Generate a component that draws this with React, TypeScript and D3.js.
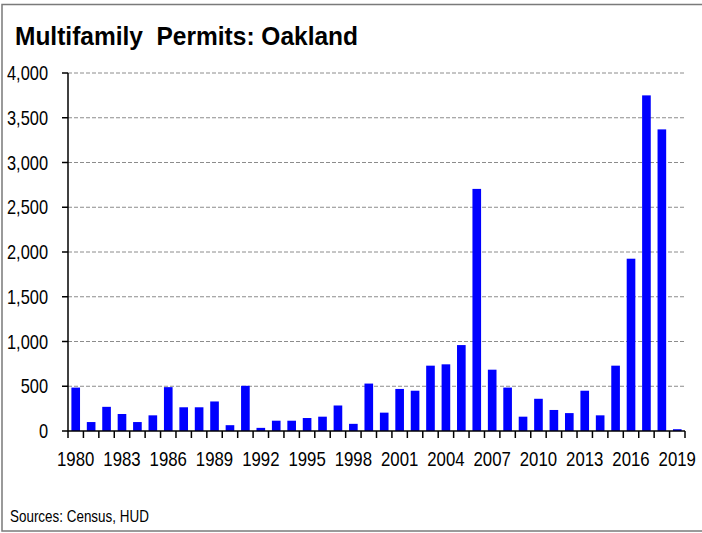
import React, { useEffect } from "react";
import * as d3 from "d3";

const years: number[] = [
  1980, 1981, 1982, 1983, 1984, 1985, 1986, 1987, 1988, 1989,
  1990, 1991, 1992, 1993, 1994, 1995, 1996, 1997, 1998, 1999,
  2000, 2001, 2002, 2003, 2004, 2005, 2006, 2007, 2008, 2009,
  2010, 2011, 2012, 2013, 2014, 2015, 2016, 2017, 2018, 2019,
];
const permits: number[] = [
  485, 100, 270, 190, 100, 175, 490, 265, 265, 330,
  65, 505, 35, 115, 115, 145, 160, 285, 80, 530,
  205, 470, 450, 730, 745, 960, 2705, 685, 485, 160,
  360, 235, 200, 450, 175, 730, 1925, 3750, 3370, 20,
];
const yTicks: number[] = [0, 500, 1000, 1500, 2000, 2500, 3000, 3500, 4000];
const xLabelYears: number[] = [1980, 1983, 1986, 1989, 1992, 1995, 1998, 2001, 2004, 2007, 2010, 2013, 2016, 2019];

const title = "Multifamily  Permits: Oakland";
const source = "Sources: Census, HUD";

const W = 702;
const H = 533;
const FONT = "'Liberation Sans', Arial, sans-serif";

function NText(props: {
  x: number;
  y: number;
  size: number;
  sx?: number;
  anchor?: "start" | "middle" | "end";
  bold?: boolean;
  children: React.ReactNode;
}) {
  return (
    <text
      transform={`translate(${props.x},${props.y}) scale(${props.sx ?? 0.82},1)`}
      x={0}
      y={0}
      fontSize={props.size}
      fontWeight={props.bold ? "bold" : "normal"}
      textAnchor={props.anchor || "start"}
      fill="#000"
      style={{ whiteSpace: "pre" }}
    >
      {props.children}
    </text>
  );
}

export default function App() {
  useEffect(() => {
    document.body.style.margin = "0";
  }, []);

  const x0 = 68;
  const x1 = 685;
  const yTop = 73;
  const yBase = 431;

  const x = d3.scaleBand<number>().domain(years).range([x0, x1]).paddingInner(0.44).paddingOuter(0.22);
  const y = d3.scaleLinear().domain([0, 4000]).range([yBase, yTop]);
  const fmt = d3.format(",");

  const boundaries = d3.range(years.length + 1).map((i) => x0 + (x1 - x0) * (i / years.length));

  return (
    <svg width={W} height={H} style={{ display: "block", background: "#fff" }} fontFamily={FONT}>
      <rect x={2} y={4.5} width={W + 10} height={526.5} fill="none" stroke="#7a7a7a" strokeWidth={1.5} />
      <text
        x={15}
        y={45}
        fontSize={26}
        fontWeight="bold"
        fill="#000"
        textLength={343}
        lengthAdjust="spacingAndGlyphs"
        style={{ whiteSpace: "pre" }}
      >
        {title}
      </text>

      {yTicks.filter((t) => t > 0).map((t) => (
        <line key={"g" + t} x1={x0} x2={x1} y1={y(t)} y2={y(t)} stroke="#8c8c8c" strokeWidth={1} strokeDasharray="4,2" />
      ))}

      {years.map((yr, i) => (
        <rect key={yr} x={x(yr)} y={y(permits[i])} width={x.bandwidth()} height={yBase - y(permits[i])} fill="#0000ff" />
      ))}

      <line x1={x0} x2={x0} y1={yTop} y2={yBase} stroke="#000" strokeWidth={1.5} />
      {yTicks.map((t) => (
        <g key={"yt" + t}>
          <line x1={x0 - 6} x2={x0} y1={y(t)} y2={y(t)} stroke="#000" strokeWidth={1.5} />
          <NText x={48} y={y(t) + 7} size={20} anchor="end">
            {fmt(t)}
          </NText>
        </g>
      ))}

      <line x1={x0} x2={x1} y1={yBase} y2={yBase} stroke="#000" strokeWidth={1.5} />
      {boundaries.map((bx, i) => (
        <line key={"xt" + i} x1={bx} x2={bx} y1={yBase} y2={yBase + 7} stroke="#000" strokeWidth={1.5} />
      ))}
      {xLabelYears.map((yr) => (
        <NText key={"xl" + yr} x={(x(yr) as number) + x.bandwidth() / 2} y={466} size={20} sx={0.84} anchor="middle">
          {yr}
        </NText>
      ))}

      <NText x={10} y={522} size={16} sx={0.84}>
        {source}
      </NText>
    </svg>
  );
}
